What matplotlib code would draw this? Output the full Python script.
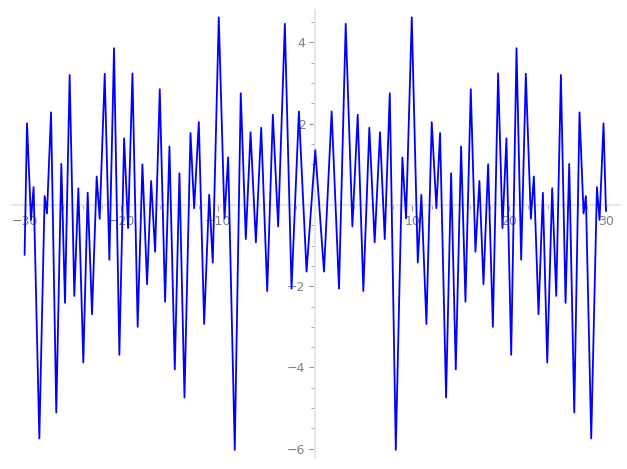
import numpy as np
import matplotlib
matplotlib.use("Agg")
import matplotlib.pyplot as plt
from matplotlib.ticker import MultipleLocator

# extrema, x >= 0 side
x_right = [0.0, 0.9, 1.69, 2.45, 3.14, 3.83, 4.38, 4.96, 5.58, 6.13,
           6.68, 7.17, 7.69, 8.31, 8.99, 9.37, 9.96, 10.58, 10.95, 11.47,
           12.02, 12.5, 12.88, 13.5, 14.02, 14.5, 15.05, 15.5, 16.05, 16.53,
           16.94, 17.36, 17.84, 18.33, 18.87, 19.32, 19.73, 20.22, 20.77, 21.25,
           21.73, 22.25, 22.56, 23.04, 23.49, 23.94, 24.45, 24.87, 25.35, 25.83,
           26.21, 26.73, 27.27, 27.69, 27.93, 28.48, 29.07, 29.34, 29.75, 30.0]
y_right = [1.35, -1.64, 2.30, -2.06, 4.46, -0.53, 2.22, -2.12, 1.90, -0.92,
           1.79, -0.84, 2.75, -6.03, 1.17, -0.33, 4.62, -1.42, 0.25, -2.93,
           2.04, -0.08, 1.77, -4.74, 0.78, -4.05, 1.44, -2.38, 2.85, -1.15,
           0.59, -1.95, 1.00, -3.00, 3.24, -0.57, 1.64, -3.69, 3.86, -1.35,
           3.23, -0.34, 0.70, -2.69, 0.30, -3.88, 0.41, -2.24, 3.20, -2.41,
           1.01, -5.11, 2.28, -0.21, 0.22, -5.75, 0.44, -0.37, 2.01, -0.15]

# x < 0 side (mirror image in the picture, left end a bit lower)
x_left = [-30.0, -29.75, -29.34, -29.07, -28.48, -27.93, -27.69, -27.27, -26.73, -26.21,
          -25.83, -25.35, -24.87, -24.45, -23.94, -23.49, -23.04, -22.56, -22.25, -21.73,
          -21.25, -20.77, -20.22, -19.73, -19.32, -18.87, -18.33, -17.84, -17.36, -16.94,
          -16.53, -16.05, -15.5, -15.05, -14.5, -14.02, -13.5, -12.88, -12.5, -12.02,
          -11.47, -10.95, -10.58, -9.96, -9.37, -8.99, -8.31, -7.69, -7.17, -6.68,
          -6.13, -5.58, -4.96, -4.38, -3.83, -3.14, -2.45, -1.69, -0.9]
y_left = [-1.23, 2.01, -0.37, 0.44, -5.75, 0.22, -0.21, 2.28, -5.11, 1.01,
          -2.41, 3.20, -2.24, 0.41, -3.88, 0.30, -2.69, 0.70, -0.34, 3.23,
          -1.35, 3.86, -3.69, 1.64, -0.57, 3.24, -3.00, 1.00, -1.95, 0.59,
          -1.15, 2.85, -2.38, 1.44, -4.05, 0.78, -4.74, 1.77, -0.08, 2.04,
          -2.93, 0.25, -1.42, 4.62, -0.33, 1.17, -6.03, 2.75, -0.84, 1.79,
          -0.92, 1.90, -2.12, 2.22, -0.53, 4.46, -2.06, 2.30, -1.64]

xs = x_left + x_right
ys = y_left + y_right

fig = plt.figure(figsize=(6.27, 4.69), dpi=100)
ax = fig.add_axes([12 / 627, 11 / 469, 608 / 627, 448 / 469])

ax.plot(xs, ys, color="blue", lw=1.3, zorder=3,
        solid_joinstyle="round", solid_capstyle="round")

ax.set_xlim(-31.3, 31.45)
ax.set_ylim(-6.23, 4.8)

for side in ["top", "right"]:
    ax.spines[side].set_visible(False)
for side in ["left", "bottom"]:
    ax.spines[side].set_position(("data", 0))
    ax.spines[side].set_color("#e6e6e6")
    ax.spines[side].set_linewidth(1.4)

ax.xaxis.set_major_locator(MultipleLocator(10))
ax.xaxis.set_minor_locator(MultipleLocator(2))
ax.yaxis.set_major_locator(MultipleLocator(2))
ax.yaxis.set_minor_locator(MultipleLocator(0.5))
ax.set_xticks([-30, -20, -10, 10, 20, 30])
ax.set_yticks([-6, -4, -2, 2, 4])

ax.tick_params(which="major", length=4, width=0.8, color="#999999",
               labelcolor="#808080", labelsize=9, pad=3)
ax.tick_params(which="minor", length=3, width=0.6, color="#999999")

plt.savefig("out.png", dpi=100)
